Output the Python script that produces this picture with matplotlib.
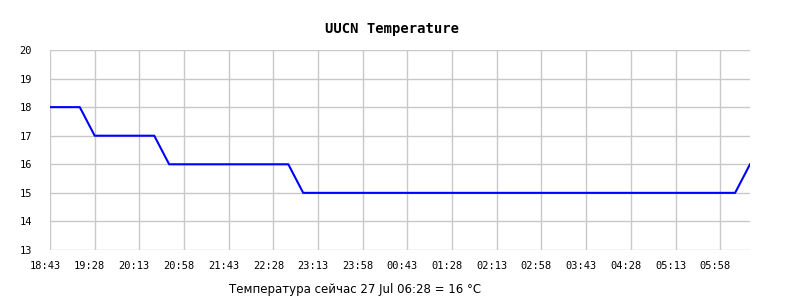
import matplotlib
matplotlib.use("Agg")
import matplotlib.pyplot as plt
import matplotlib.transforms as mtransforms
from datetime import datetime, timedelta

# readings (every change point of the 15-minute log)
times = ["26 18:43", "26 19:13", "26 19:28", "26 20:28", "26 20:43",
         "26 22:43", "26 22:58", "27 06:13", "27 06:28"]
temps = [18, 18, 17, 17, 16, 16, 15, 15, 16]

tick_labels = ["18:43", "19:28", "20:13", "20:58", "21:43", "22:28", "23:13", "23:58",
               "00:43", "01:28", "02:13", "02:58", "03:43", "04:28", "05:13", "05:58"]
y_ticks = [13, 14, 15, 16, 17, 18, 19, 20]

title = "UUCN Temperature"
caption = "Температура сейчас 27 Jul 06:28 = 16 °C"

x = [datetime.strptime("2024-07-" + t, "%Y-%m-%d %H:%M") for t in times]
start = x[0]
ticks = [start + timedelta(minutes=45 * i) for i in range(len(tick_labels))]

fig = plt.figure(figsize=(8, 3), dpi=100)
ax = fig.add_axes([50 / 800, 50 / 300, 700 / 800, 200 / 300])

ax.plot(x, temps, color="#0000ff", lw=1.5)

ax.set_xlim(start, x[-1])
ax.set_ylim(13, 20)
ax.set_xticks(ticks)
ax.set_xticklabels(tick_labels)
ax.set_yticks(y_ticks)
ax.grid(True, color="#c8c8c8", lw=1)
ax.set_axisbelow(True)
for s in ax.spines.values():
    s.set_visible(False)
ax.tick_params(length=0, labelsize=7.5, labelcolor="black")
ax.tick_params(axis="x", pad=8)
ax.tick_params(axis="y", pad=13)
shift = mtransforms.ScaledTranslation(-5 / 100, 0, fig.dpi_scale_trans)
for lbl in ax.get_xticklabels():
    lbl.set_family("DejaVu Sans Mono")
    lbl.set_transform(lbl.get_transform() + shift)
for lbl in ax.get_yticklabels():
    lbl.set_family("DejaVu Sans Mono")

fig.text(392 / 800, 1 - 29 / 300, title, ha="center", va="center",
         family="DejaVu Sans Mono", fontweight="bold", fontsize=10)
fig.text(355 / 800, 1 - 290 / 300, caption, ha="center", va="center",
         family="DejaVu Sans", fontsize=8.5)

fig.savefig("out.png", dpi=100)
